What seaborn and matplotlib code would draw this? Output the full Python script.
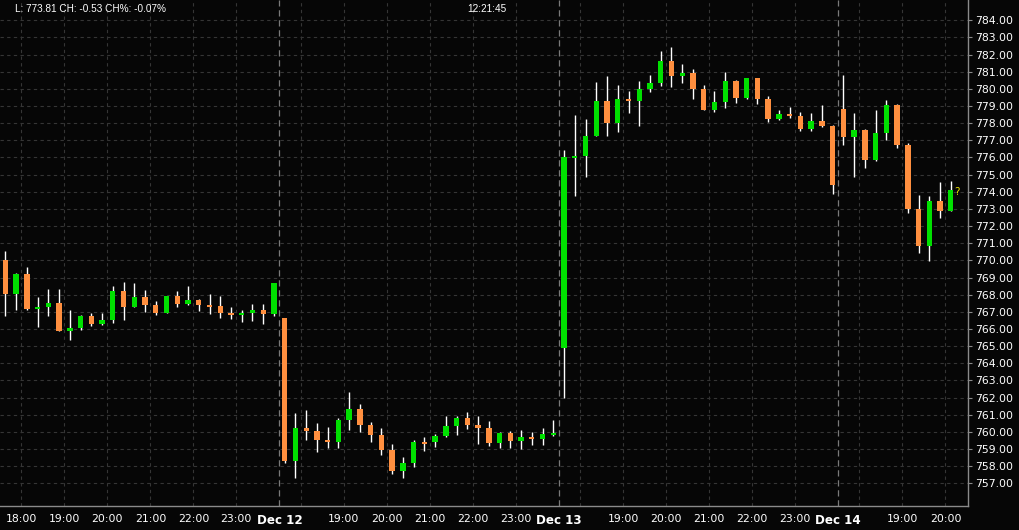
import numpy as np
import pandas as pd
import matplotlib
matplotlib.use("Agg")
import matplotlib.pyplot as plt
import seaborn as sns

# 15-minute candles, four sessions (Dec 11 evening .. Dec 14)
opens = [770.02, 768.06, 769.20, 767.16, 767.30, 767.51, 765.90, 766.07, 766.76, 766.31,
         766.54, 768.21, 767.30, 767.86, 767.40, 766.95, 767.92, 767.47, 767.69, 767.40,
         767.34, 766.95, 766.83, 766.95, 767.10, 766.89,
         766.64, 758.32, 760.22, 760.04, 759.52, 759.40, 760.69, 761.33, 760.40, 759.82,
         758.94, 757.73, 758.20, 759.40, 759.40, 759.76, 760.34, 760.81, 760.40, 760.22,
         759.35, 759.93, 759.46, 759.70, 759.58, 759.82,
         764.91, 775.99, 776.10, 777.27, 779.29, 778.03, 779.41, 779.29, 779.99, 780.36,
         781.62, 780.77, 780.92, 779.99, 778.77, 779.23, 780.46, 779.47, 780.63, 779.41,
         778.24, 778.53, 778.42, 777.66, 778.13, 777.83,
         778.83, 777.21, 777.60, 775.87, 777.43, 779.06, 776.73, 772.99, 770.85, 773.46,
         772.90]
highs = [770.55, 769.24, 769.61, 767.86, 768.33, 768.33, 767.10, 766.80, 766.93, 766.93,
         768.50, 768.74, 768.68, 768.27, 767.63, 767.92, 768.21, 768.50, 767.75, 768.04,
         767.92, 767.28, 767.10, 767.45, 767.45, 768.68,
         766.64, 761.10, 761.27, 760.51, 760.28, 760.81, 762.32, 761.62, 760.57, 760.22,
         759.29, 758.53, 759.52, 759.70, 759.88, 760.92, 760.92, 761.16, 760.92, 760.63,
         759.99, 760.05, 760.11, 759.99, 760.22, 760.69,
         776.43, 778.48, 778.24, 780.40, 780.75, 780.22, 779.87, 780.46, 780.81, 782.21,
         782.44, 781.45, 781.16, 780.22, 779.87, 780.98, 780.52, 780.63, 780.63, 779.58,
         778.77, 778.94, 778.65, 778.59, 779.06, 777.89,
         780.81, 778.61, 777.66, 778.77, 779.35, 779.12, 776.84, 773.81, 773.75, 774.57,
         774.63]
lows = [766.76, 767.10, 767.10, 766.11, 766.76, 765.88, 765.37, 765.96, 766.19, 766.25,
        766.36, 766.52, 767.30, 766.99, 766.83, 766.95, 767.30, 767.41, 767.06, 766.89,
        766.66, 766.60, 766.42, 766.48, 766.31, 766.77,
        758.20, 757.33, 759.52, 758.82, 759.05, 759.05, 760.11, 759.99, 759.40, 758.65,
        757.56, 757.33, 757.97, 758.88, 759.11, 759.70, 759.82, 760.16, 759.29, 759.17,
        759.05, 759.05, 758.99, 759.23, 759.23, 759.76,
        761.99, 773.77, 774.88, 777.27, 777.27, 777.50, 778.61, 777.85, 779.82, 780.18,
        780.12, 780.36, 779.41, 778.77, 778.65, 778.88, 779.17, 779.41, 779.12, 778.07,
        778.18, 778.30, 777.54, 777.54, 777.77, 773.87,
        776.73, 774.84, 775.37, 775.78, 777.02, 776.57, 772.78, 770.45, 769.98, 772.49,
        772.90]
closes = [768.06, 769.20, 767.16, 767.28, 767.51, 765.90, 766.05, 766.74, 766.31, 766.52,
          768.21, 767.30, 767.86, 767.41, 766.95, 767.92, 767.47, 767.69, 767.41, 767.30,
          766.95, 766.83, 766.95, 767.10, 766.89, 768.68,
          758.32, 760.22, 760.07, 759.52, 759.40, 760.70, 761.33, 760.40, 759.82, 758.94,
          757.73, 758.18, 759.40, 759.29, 759.76, 760.34, 760.81, 760.40, 760.22, 759.35,
          759.93, 759.46, 759.70, 759.58, 759.88, 759.93,
          776.03, 776.08, 777.25, 779.29, 778.03, 779.41, 779.31, 779.99, 780.34, 781.62,
          780.77, 780.92, 779.99, 778.77, 779.23, 780.46, 779.47, 780.63, 779.41, 778.24,
          778.53, 778.42, 777.66, 778.13, 777.83, 774.39,
          777.21, 777.60, 775.87, 777.43, 779.06, 776.74, 773.01, 770.85, 773.46, 772.90,
          774.10]

# x-axis labels (position in candle units) and day separators
tick_pos = [1.5, 5.5, 9.5, 13.5, 17.5, 21.5, 25.5,
            31.5, 35.5, 39.5, 43.5, 47.5, 51.5,
            57.5, 61.5, 65.5, 69.5, 73.5, 77.5,
            83.5, 87.5]
tick_labels = ["18:00", "19:00", "20:00", "21:00", "22:00", "23:00", "Dec 12",
               "19:00", "20:00", "21:00", "22:00", "23:00", "Dec 13",
               "19:00", "20:00", "21:00", "22:00", "23:00", "Dec 14",
               "19:00", "20:00"]
day_breaks = [25.5, 51.5, 77.5]
hour_lines = [1.5, 5.5, 9.5, 13.5, 17.5, 21.5,
              27.5, 31.5, 35.5, 39.5, 43.5, 47.5,
              53.5, 57.5, 61.5, 65.5, 69.5, 73.5,
              79.5, 83.5, 87.5]
price_ticks = list(range(757, 785))

header = "L: 773.81 CH: -0.53 CH%: -0.07%"
clock = "12:21:45"

BG = "#060606"
UP = "#00e000"
DOWN = "#ff8f3f"
GRID = "#353535"

sns.set_theme(style="dark", rc={
    "figure.facecolor": BG, "axes.facecolor": BG,
    "axes.edgecolor": "#8a8a8a", "axes.grid": False,
    "xtick.color": "#8a8a8a", "ytick.color": "#8a8a8a",
    "text.color": "white",
})
plt.rcParams["font.family"] = ["DejaVu Sans"]

df = pd.DataFrame({"o": opens, "h": highs, "l": lows, "c": closes})
df["x"] = np.arange(len(df))
df["up"] = df["c"] >= df["o"]
df["bottom"] = df[["o", "c"]].min(axis=1)
df["height"] = (df["c"] - df["o"]).abs().clip(lower=0.1)
df["color"] = np.where(df["up"], UP, DOWN)

fig = plt.figure(figsize=(10.2, 5.3), dpi=100)
ax = fig.add_axes([0, 24 / 530, 968 / 1020, 506 / 530])

# grid
for p in price_ticks:
    ax.axhline(p, color=GRID, lw=0.8, ls=(0, (3, 3)), zorder=0)
for x in hour_lines:
    ax.axvline(x, color=GRID, lw=0.8, ls=(0, (3, 3)), zorder=0)
for x in day_breaks:
    ax.axvline(x, color="#7a7a7a", lw=0.9, ls=(0, (5, 3)), zorder=0)

# wicks and bodies
ax.vlines(df["x"], df["l"], df["h"], color="white", lw=1.0, zorder=2)
ax.bar(df["x"], df["height"], bottom=df["bottom"], width=0.5,
       color=df["color"], linewidth=0, zorder=3)

ax.text(df["x"].iloc[-1] + 0.35, df["c"].iloc[-1] - 0.1, "?", color="#e8e000",
        fontsize=7.5, ha="left", va="center", zorder=4)

ax.set_xlim(-0.5, 89.6)
ax.set_ylim(755.68, 785.18)

ax.yaxis.tick_right()
ax.set_yticks(price_ticks)
ax.set_yticklabels([f"{p:.2f}" for p in price_ticks], color="white", fontsize=7.8)
ax.tick_params(axis="y", length=3, width=0.8, pad=2, direction="out")

ax.set_xticks(tick_pos)
ax.set_xticklabels(tick_labels, color="white", fontsize=7.8)
ax.tick_params(axis="x", length=0, pad=6)
for lbl in ax.get_xticklabels():
    if lbl.get_text().startswith("Dec"):
        lbl.set_fontweight("bold")
        lbl.set_fontsize(8.6)

for side in ["top", "left"]:
    ax.spines[side].set_visible(False)
for side in ["right", "bottom"]:
    ax.spines[side].set_color("#8a8a8a")
    ax.spines[side].set_linewidth(1.0)

fig.text(15 / 1020, 1 - 8.5 / 530, header, family=["Liberation Sans"], fontsize=7.2,
         color="white", va="center", ha="left")
fig.text(487 / 1020, 1 - 8.5 / 530, clock, family=["Liberation Sans"], fontsize=7.2,
         color="white", va="center", ha="center")

fig.savefig("out.png", dpi=100, facecolor=BG)
